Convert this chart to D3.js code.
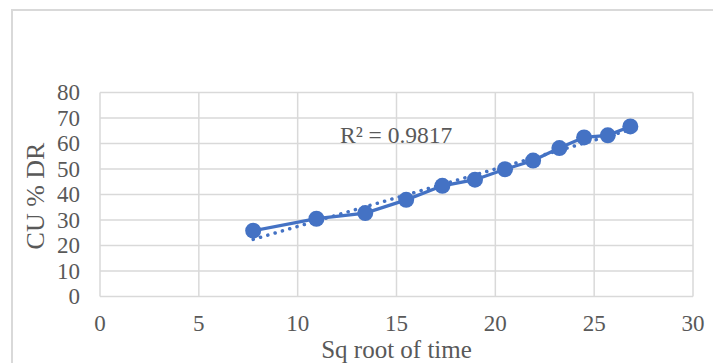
<!DOCTYPE html>
<html>
<head>
<meta charset="utf-8">
<script src="https://cdn.jsdelivr.net/npm/d3@7"></script>
<style>
  body { margin: 0; background: #fff; }
  svg { display: block; }
  text { font-family: 'Liberation Serif', 'Times New Roman', serif; fill: #595959; }
</style>
</head>
<body>
<div id="chart"></div>
<script>
// sqrt(time) and CU % DR
const sqTime = [7.75, 10.95, 13.42, 15.49, 17.32, 18.97, 20.49, 21.91, 23.24, 24.49, 25.69, 26.83]
const cuDR = [25.8, 30.5, 32.7, 37.9, 43.4, 45.8, 49.9, 53.3, 58.2, 62.4, 63.2, 66.7]
const xTicks = [0, 5, 10, 15, 20, 25, 30]
const yTicks = [0, 10, 20, 30, 40, 50, 60, 70, 80]
const r2Label = 'R² = 0.9817'

const width = 713
const height = 363
const blue = '#4472C4'
const grid = '#d9d9d9'

const svg = d3.select('#chart').append('svg')
  .attr('width', width)
  .attr('height', height)

// outer chart border (only top and left visible in the crop)
svg.append('path')
  .attr('d', `M12,${height + 5}V10H${width + 5}`)
  .attr('fill', 'none')
  .attr('stroke', grid)
  .attr('stroke-width', 2)

const x = d3.scaleLinear().domain([0, 30]).range([100, 693])
const y = d3.scaleLinear().domain([0, 80]).range([296.5, 92.5])

// grid
svg.append('g')
  .selectAll('line')
  .data(yTicks)
  .join('line')
    .attr('x1', x(0)).attr('x2', x(30))
    .attr('y1', d => y(d)).attr('y2', d => y(d))
    .attr('stroke', grid).attr('stroke-width', 1.5)

svg.append('g')
  .selectAll('line')
  .data(xTicks)
  .join('line')
    .attr('x1', d => x(d)).attr('x2', d => x(d))
    .attr('y1', y(0)).attr('y2', y(80))
    .attr('stroke', grid).attr('stroke-width', 1.5)

// tick labels
svg.append('g')
  .selectAll('text')
  .data(yTicks)
  .join('text')
    .attr('x', 80)
    .attr('y', d => y(d))
    .attr('dy', '0.34em')
    .attr('text-anchor', 'end')
    .style('font-size', '23px')
    .text(d => d)

svg.append('g')
  .selectAll('text')
  .data(xTicks)
  .join('text')
    .attr('x', d => x(d))
    .attr('y', 331)
    .attr('text-anchor', 'middle')
    .style('font-size', '23px')
    .text(d => d)

// axis titles
svg.append('text')
  .attr('x', (x(0) + x(30)) / 2)
  .attr('y', 358)
  .attr('text-anchor', 'middle')
  .style('font-size', '25px')
  .text('Sq root of time')

svg.append('text')
  .attr('transform', 'translate(44,196) rotate(-90)')
  .attr('text-anchor', 'middle')
  .style('font-size', '26px')
  .text('CU % DR')

// linear trendline (least squares)
const pts = sqTime.map((t, i) => [t, cuDR[i]])
const mx = d3.mean(sqTime)
const my = d3.mean(cuDR)
const slope = d3.sum(pts, p => (p[0] - mx) * (p[1] - my)) / d3.sum(pts, p => (p[0] - mx) ** 2)
const icpt = my - slope * mx
const xMin = d3.min(sqTime)
const xMax = d3.max(sqTime)

svg.append('line')
  .attr('x1', x(xMin)).attr('y1', y(icpt + slope * xMin))
  .attr('x2', x(xMax)).attr('y2', y(icpt + slope * xMax))
  .attr('stroke', blue)
  .attr('stroke-width', 3.5)
  .attr('stroke-linecap', 'round')
  .attr('stroke-dasharray', '0.1 7.5')

// series
const line = d3.line().x(d => x(d[0])).y(d => y(d[1]))
svg.append('path')
  .datum(pts)
  .attr('d', line)
  .attr('fill', 'none')
  .attr('stroke', blue)
  .attr('stroke-width', 3.25)

svg.append('g')
  .selectAll('circle')
  .data(pts)
  .join('circle')
    .attr('cx', d => x(d[0]))
    .attr('cy', d => y(d[1]))
    .attr('r', 8)
    .attr('fill', blue)

svg.append('text')
  .attr('x', 340)
  .attr('y', 143)
  .style('font-size', '23.5px')
  .text(r2Label)
</script>
</body>
</html>
